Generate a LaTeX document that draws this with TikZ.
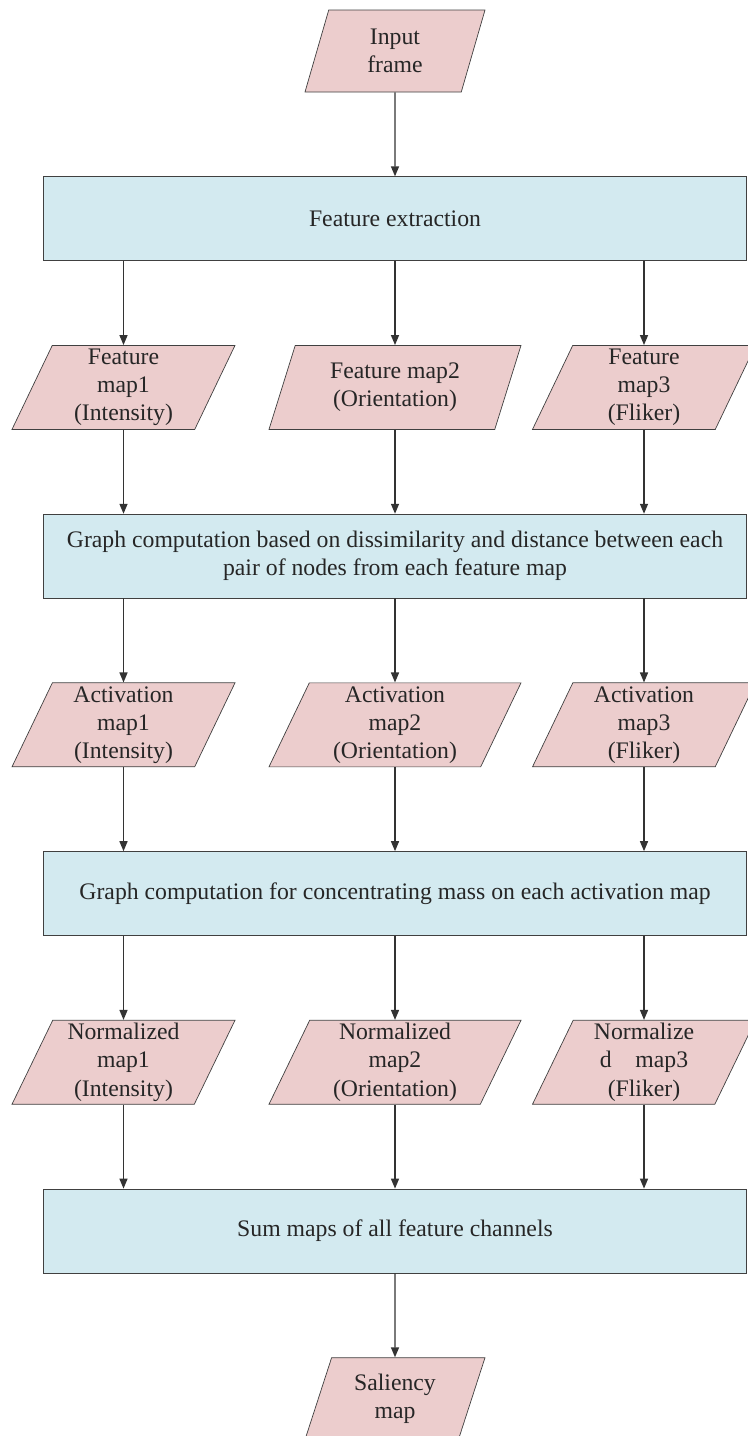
\documentclass[tikz,border=0pt]{standalone}
\usepackage{fontspec}
\setmainfont{Liberation Serif}
\usetikzlibrary{positioning,arrows.meta,shapes.geometric}
\definecolor{mappink}{RGB}{236,205,205}
\definecolor{boxblue}{RGB}{211,234,240}
\tikzset{
mapshape/.style={
draw=black!75,
trapezium,
trapezium left angle=63.4,
trapezium right angle=116.6,
trapezium stretches body,
minimum width=4.46cm,
minimum height=1.68cm,
inner sep=1pt,
align=center,
fill=mappink,
text=black!85,
font=\fontsize{13.5}{16}\selectfont
},
widemap/.style={
mapshape,
minimum width=5.04cm
},
endmap/.style={
mapshape,
minimum width=3.6cm,
minimum height=1.64cm
},
stagebox/.style={
draw=black!75,
minimum width=14.06cm,
minimum height=1.68cm,
align=center,
fill=boxblue,
text=black!85,
font=\fontsize{13.5}{16}\selectfont
},
arrow/.style={
-{Triangle[length=2mm,width=1.6mm]},
line width=0.8pt,
draw=black!80
}
}

\begin{document}
\begin{tikzpicture}[node distance=1.68cm]
\useasboundingbox (0,0) rectangle (14.96,-28.72);
\node[endmap](input) at (7.9,-1.02){Input\\frame};
\node[stagebox,below=of input](extract){Feature extraction};
\node[widemap,below=of extract](fm2){Feature map2\\(Orientation)};
\node[mapshape,below=of extract,xshift=-5.43cm](fm1){Feature\\map1\\(Intensity)};
\node[mapshape,below=of extract,xshift=4.98cm](fm3){Feature\\map3\\(Fliker)};
\node[stagebox,below=of fm2](graph){Graph computation based on dissimilarity and distance between each\\pair of nodes from each feature map};
\node[widemap,below=of graph](am2){Activation\\map2\\(Orientation)};
\node[mapshape,below=of graph,xshift=-5.43cm](am1){Activation\\map1\\(Intensity)};
\node[mapshape,below=of graph,xshift=4.98cm](am3){Activation\\map3\\(Fliker)};
\node[stagebox,below=of am2](mass){Graph computation for concentrating mass on each activation map};
\node[widemap,below=of mass](nm2){Normalized\\map2\\(Orientation)};
\node[mapshape,below=of mass,xshift=-5.43cm](nm1){Normalized\\map1\\(Intensity)};
\node[mapshape,below=of mass,xshift=4.98cm](nm3){Normalize\\d\quad map3\\(Fliker)};
\node[stagebox,below=of nm2](sum){Sum maps of all feature channels};
\node[endmap,below=of sum](saliency){Saliency\\map};

\draw[arrow](input)--(extract);
\foreach \x/\y in {extract/fm,graph/am,mass/nm}
\foreach \i in {1,2,3}
\draw[arrow](\x.south -| \y\i.north)--(\y\i.north);
\foreach \x/\y in {fm/graph,am/mass,nm/sum}
\foreach \i in {1,2,3}
\draw[arrow](\x\i.south)--(\y.north -| \x\i.south);
\draw[arrow](sum)--(saliency);
\end{tikzpicture}
\end{document}
